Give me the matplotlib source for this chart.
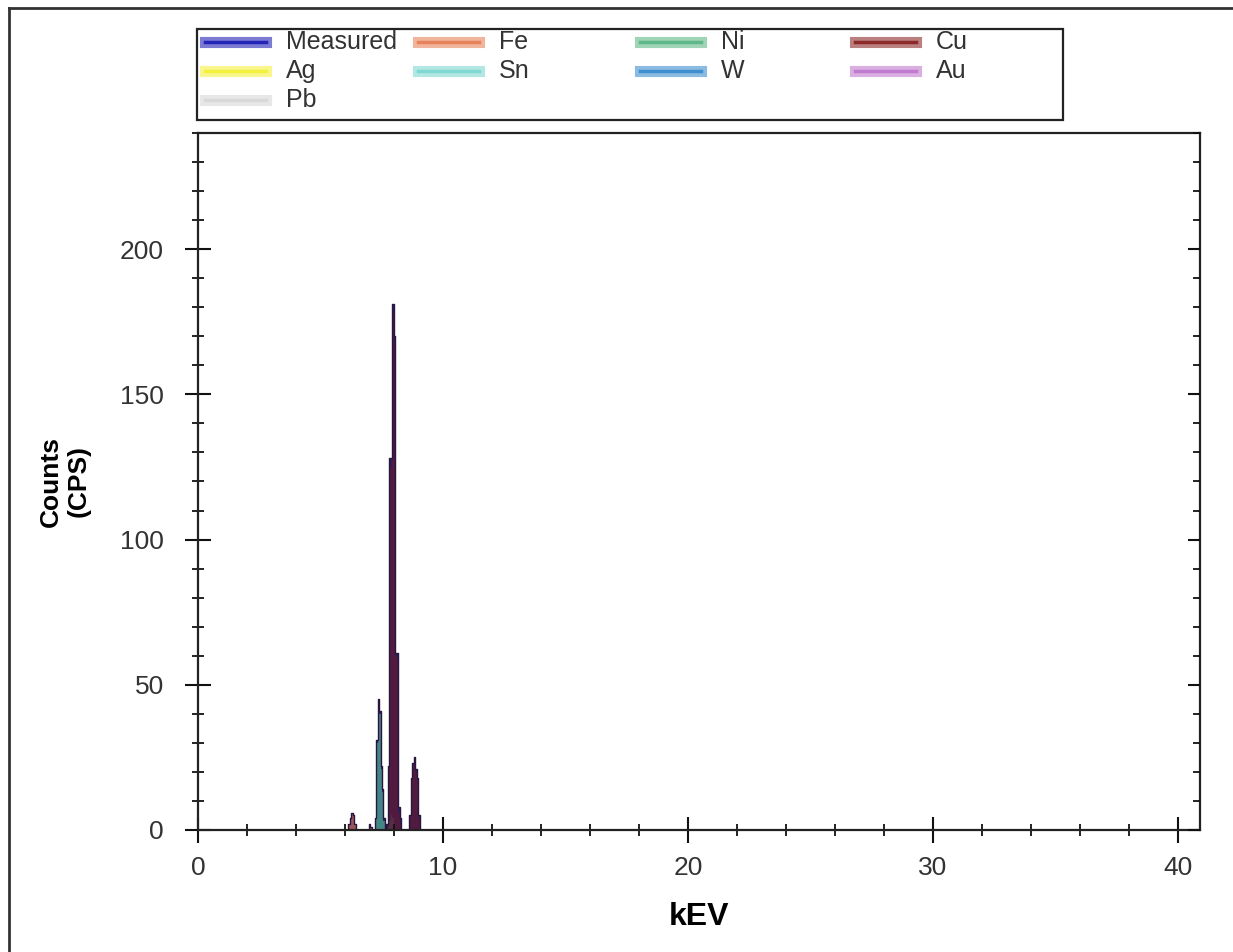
import matplotlib.pyplot as plt
import matplotlib.patheffects as pe
from matplotlib.lines import Line2D
from matplotlib.patches import Rectangle
from matplotlib.ticker import MultipleLocator

plt.rcParams['font.family'] = ['Liberation Sans', 'DejaVu Sans']

# measured spectrum (channel centre in kEV, counts)
kev = [6.10, 6.16, 6.22, 6.28, 6.34, 6.40, 6.46,
       6.94, 7.00, 7.06, 7.12,
       7.18, 7.24, 7.30, 7.36, 7.42, 7.48, 7.54, 7.60, 7.66,
       7.72, 7.78, 7.84, 7.90, 7.96, 8.02, 8.08, 8.14, 8.20, 8.26, 8.32,
       8.60, 8.66, 8.72, 8.78, 8.84, 8.90, 8.96, 9.02, 9.08]
measured = [0, 2, 4, 6, 5, 2, 0,
            0, 2, 1, 0,
            0, 4, 31, 45, 41, 22, 14, 4, 0,
            2, 22, 128, 128, 181, 170, 61, 61, 8, 4, 0,
            0, 5, 18, 23, 25, 21, 18, 5, 0]

# element fits (same channels)
fe_fit = [0, 2, 4, 6, 5, 2, 0,
          0, 1, 1, 0,
          0, 0, 0, 0, 0, 0, 0, 0, 0,
          0, 0, 0, 0, 0, 0, 0, 0, 0, 0, 0,
          0, 0, 0, 0, 0, 0, 0, 0, 0]
ni_fit = [0, 0, 0, 0, 0, 0, 0,
          0, 0, 0, 0,
          0, 4, 30, 44, 40, 21, 13, 3, 0,
          0, 1, 3, 5, 4, 2, 0, 0, 0, 0, 0,
          0, 0, 0, 0, 0, 0, 0, 0, 0]
cu_fit = [0, 0, 0, 0, 0, 0, 0,
          0, 0, 0, 0,
          0, 0, 0, 0, 0, 0, 0, 0, 0,
          1, 20, 125, 125, 178, 168, 60, 59, 6, 2, 0,
          0, 4, 17, 22, 24, 20, 17, 4, 0]

legend_names = ['Measured', 'Fe', 'Ni', 'Cu', 'Ag', 'Sn', 'W', 'Au', 'Pb']
legend_colors = ['#2323b8', '#e8825a', '#5fb888', '#8c2a2a', '#f4f040',
                 '#7fd8d2', '#3f8fd0', '#c07ad0', '#d8d8d8']

fig = plt.figure(figsize=(12.33, 9.52), dpi=100)
ax = fig.add_axes([0.1606, 0.1282, 0.8126, 0.7321])

ax.fill_between(kev, measured, step='mid', color='#2a2060', lw=0)
ax.fill_between(kev, fe_fit, step='mid', color='#c06a58', alpha=0.75, lw=0)
ax.fill_between(kev, ni_fit, step='mid', color='#4aa090', alpha=0.8, lw=0)
ax.fill_between(kev, cu_fit, step='mid', color='#5a1a36', alpha=0.8, lw=0)
ax.step(kev, measured, where='mid', color='#2a1540', lw=1.0)

ax.set_xlim(0, 40.9)
ax.set_ylim(0, 240)
ax.xaxis.set_major_locator(MultipleLocator(10))
ax.xaxis.set_minor_locator(MultipleLocator(2))
ax.yaxis.set_major_locator(MultipleLocator(50))
ax.yaxis.set_minor_locator(MultipleLocator(10))
ax.tick_params(axis='both', which='major', direction='inout', length=19,
               width=1.5, labelsize=19, colors='#111111', labelcolor='#333333')
ax.tick_params(axis='both', which='minor', direction='inout', length=9,
               width=1.3, colors='#111111')
ax.tick_params(axis='x', which='major', pad=9)
ax.tick_params(axis='y', which='major', pad=15)
for sp in ax.spines.values():
    sp.set_linewidth(1.6)
    sp.set_color('#222222')

# right-hand ticks point inward only
ax_r = ax.twinx()
ax_r.set_ylim(ax.get_ylim())
ax_r.yaxis.set_major_locator(MultipleLocator(50))
ax_r.yaxis.set_minor_locator(MultipleLocator(10))
ax_r.tick_params(axis='y', which='major', direction='in', length=9, width=1.5,
                 colors='#111111', labelright=False)
ax_r.tick_params(axis='y', which='minor', direction='in', length=5, width=1.3,
                 colors='#111111')
for sp in ax_r.spines.values():
    sp.set_visible(False)

ax.set_xlabel('kEV', fontsize=23, fontweight='bold', labelpad=16)
ax.set_ylabel('Counts\n(CPS)', fontsize=19, fontweight='bold', labelpad=21)

# legend box above the plot, entries laid out row by row
col_x = [0.1663, 0.3390, 0.5191, 0.6934]
row_y = [0.9559, 0.9254, 0.8950]
handle_w = 0.0495
text_gap = 0.0162
fig.add_artist(Rectangle((0.1598, 0.8739), 0.7026, 0.0956, transform=fig.transFigure,
                         fill=False, edgecolor='#222222', lw=1.6))
for i, (name, col) in enumerate(zip(legend_names, legend_colors)):
    x0 = col_x[i % 4]
    y0 = row_y[i // 4]
    fig.add_artist(Line2D([x0, x0 + handle_w], [y0, y0], color=col, lw=2.5,
                          path_effects=[pe.Stroke(linewidth=8, foreground=col, alpha=0.6),
                                        pe.Normal()]))
    fig.text(x0 + handle_w + text_gap, y0, name, fontsize=18, color='#333333',
             va='center', ha='left')

# outer frame (top and left only)
fig.add_artist(Line2D([0.0073, 1.0], [0.9916, 0.9916], color='#333333', lw=2))
fig.add_artist(Line2D([0.0073, 0.0073], [0.0, 0.9916], color='#333333', lw=2))

fig.savefig('out.png', dpi=100)
